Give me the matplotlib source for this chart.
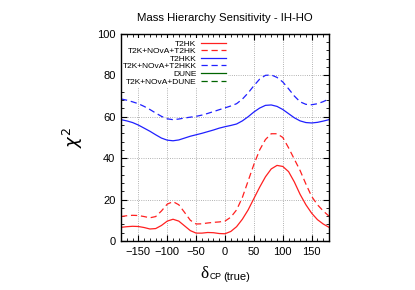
import numpy as np
import matplotlib
matplotlib.use("Agg")
import matplotlib.pyplot as plt
from matplotlib.ticker import MultipleLocator

plt.rcParams['font.family'] = ['Liberation Sans', 'DejaVu Sans']

# delta_CP (true) in degrees
delta_cp = list(range(-180, 181, 10))

t2hk = [6.6, 6.9, 7.1, 7.0, 6.5, 5.8, 6.0, 7.5, 9.6, 10.5,
        9.6, 7.3, 5.0, 3.8, 3.8, 4.1, 4.0, 3.6, 3.5, 4.6,
        6.9, 10.5, 15.0, 20.5, 26.0, 31.0, 34.8, 36.5, 36.0, 33.5,
        28.5, 22.5, 17.5, 13.4, 10.3, 8.2, 6.6]

t2k_nova_t2hk = [11.8, 12.2, 12.4, 12.3, 11.8, 11.2, 11.8, 14.5, 17.8, 19.0,
                 17.5, 13.8, 10.0, 8.2, 8.3, 8.7, 9.0, 9.2, 9.6, 11.5,
                 15.0, 21.0, 29.0, 37.0, 44.0, 49.0, 51.8, 51.8, 50.0, 45.0,
                 39.5, 34.0, 27.5, 21.5, 17.5, 14.5, 12.0]

t2hkk = [58.6, 58.0, 57.2, 56.0, 54.5, 53.0, 51.3, 49.7, 48.7, 48.4,
         48.8, 49.7, 50.6, 51.3, 52.0, 52.8, 53.6, 54.5, 55.2, 55.8,
         56.5, 58.0, 60.0, 62.3, 64.2, 65.5, 65.7, 65.0, 63.5, 61.5,
         59.5, 58.0, 57.2, 57.0, 57.3, 57.9, 58.6]

t2k_nova_t2hkk = [68.6, 68.0, 67.2, 66.3, 65.0, 63.5, 61.8, 60.2, 59.0, 58.6,
                  58.9, 59.4, 59.8, 60.2, 60.8, 61.6, 62.5, 63.4, 64.3, 65.2,
                  66.3, 68.5, 71.5, 75.0, 78.2, 80.0, 80.2, 79.0, 76.8, 73.5,
                  70.0, 67.2, 66.0, 65.8, 66.3, 67.3, 68.6]

dash = (5, 3)

fig = plt.figure(figsize=(4.15, 2.9), dpi=100)
ax = fig.add_axes([0.2916, 0.169, 0.5012, 0.714])

ax.plot(delta_cp, t2hk, color='#ff2020', lw=0.9, label='T2HK')
ax.plot(delta_cp, t2k_nova_t2hk, color='#ff2020', lw=0.9, dashes=dash, label='T2K+NOvA+T2HK')
ax.plot(delta_cp, t2hkk, color='#2020ff', lw=0.9, label='T2HKK')
ax.plot(delta_cp, t2k_nova_t2hkk, color='#2020ff', lw=0.9, dashes=dash, label='T2K+NOvA+T2HKK')
# DUNE curves appear only in the legend
ax.plot([], [], color='#006400', lw=0.9, label='DUNE')
ax.plot([], [], color='#006400', lw=0.9, dashes=dash, label='T2K+NOvA+DUNE')

ax.set_xlim(-180, 180)
ax.set_ylim(0, 100)
ax.xaxis.set_major_locator(MultipleLocator(50))
ax.xaxis.set_minor_locator(MultipleLocator(10))
ax.yaxis.set_major_locator(MultipleLocator(20))
ax.yaxis.set_minor_locator(MultipleLocator(4))
ax.tick_params(which='both', direction='in', top=True, right=True, labelsize=8, pad=4)
ax.tick_params(which='major', length=4, width=0.8)
ax.tick_params(which='minor', length=2, width=0.6)
ax.grid(True, which='major', linestyle=':', color='#999999', lw=0.6)
for s in ax.spines.values():
    s.set_linewidth(1.0)

ax.set_title('Mass Hierarchy Sensitivity - IH-HO', fontsize=8.2, pad=9)

leg = ax.legend(loc='upper right', bbox_to_anchor=(0.535, 1.0), markerfirst=False,
                fontsize=6, labelspacing=-0.03, handlelength=3.0, handletextpad=0.6,
                borderpad=0.2, frameon=True, fancybox=False)
leg.get_frame().set_facecolor('white')
leg.get_frame().set_edgecolor('none')
leg.get_frame().set_alpha(1.0)
leg.set_zorder(2.4)  # keep spines and ticks above the white box

fig.text(0.176, 0.527, r'$\chi^2$', fontsize=13, rotation=90, ha='center', va='center')
fig.text(0.484, 0.041, 'δ', family='Liberation Serif', fontsize=12.5, ha='left', va='baseline')
fig.text(0.506, 0.038, 'CP', fontsize=6.2, ha='left', va='baseline')
fig.text(0.537, 0.036, '(true)', fontsize=8, ha='left', va='baseline')

fig.savefig('out.png', dpi=100)
